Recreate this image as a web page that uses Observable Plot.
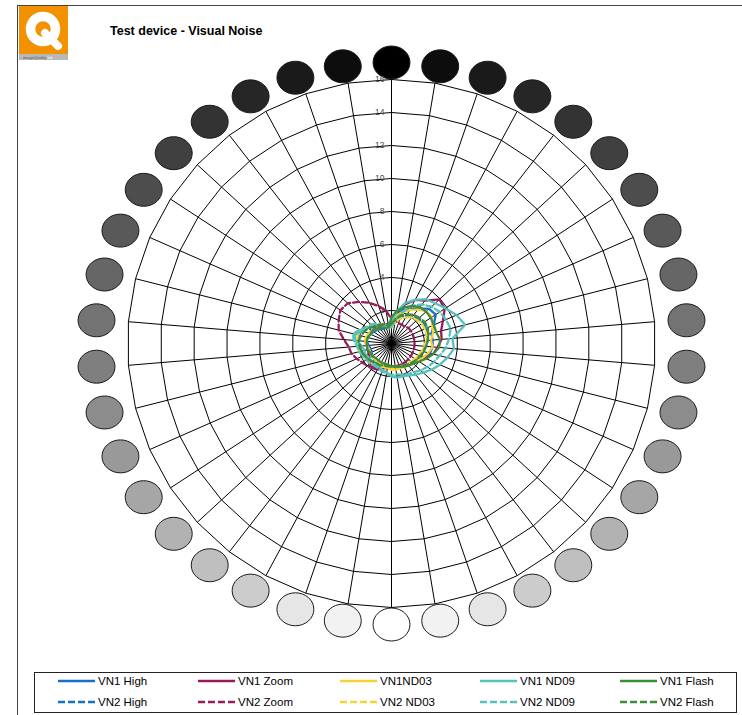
<!DOCTYPE html>
<html><head><meta charset="utf-8">
<script src="https://cdn.jsdelivr.net/npm/d3@7"></script>
<script src="https://cdn.jsdelivr.net/npm/@observablehq/plot@0.6"></script>
<style>
html,body{margin:0;padding:0;background:#fff;}
body{width:742px;height:715px;position:relative;overflow:hidden;font-family:"Liberation Sans",Arial,sans-serif;}
#chart{position:absolute;left:0;top:0;}
#frame{position:absolute;left:17px;top:5px;width:740px;height:720px;border-top:1px solid #444;border-left:1px solid #444;}
#title{position:absolute;left:110px;top:24px;font-size:12.5px;font-weight:bold;line-height:14px;color:#000;white-space:nowrap;}
#logo{position:absolute;left:19px;top:6px;}
#legend{position:absolute;left:34px;top:672px;width:703px;height:41px;box-sizing:border-box;border:1px solid #222;background:#fff;}
.item{position:absolute;height:14px;display:flex;align-items:center;font-size:11.5px;white-space:nowrap;color:#000;}
.item span{margin-left:3px;}
</style></head><body>
<div id="chart"></div>
<div id="frame"></div>
<svg id="logo" width="49" height="54" viewBox="0 0 49 54">
  <rect x="0" y="0" width="49" height="48" fill="#F39200"/>
  <rect x="0" y="48" width="49" height="6" fill="#b8b8b8"/>
  <circle cx="24" cy="23" r="12.5" fill="none" stroke="#fff" stroke-width="9.5"/>
  <line x1="26" y1="27" x2="39" y2="40" stroke="#fff" stroke-width="8" stroke-linecap="round"/>
  <text x="4" y="52.6" font-size="4" fill="#555" font-family="Liberation Sans, Arial">imageQuality <tspan fill="#fff">lab</tspan></text>
</svg>
<div id="title">Test device - Visual Noise</div>
<div id="legend"></div>
<script>
// ---- data ----
const categories = d3.range(1, 39).map(i => "Patch " + i);
const tickLabels = [2, 4, 6, 8, 10, 12, 14, 16];
const patchGrey = [0, 13, 26, 38, 51, 64, 77, 89, 102, 115, 127, 140, 153, 166, 178, 191, 204, 230, 242, 255];
const seriesNames = ["VN1 High", "VN2 High", "VN1 Zoom", "VN2 Zoom", "VN1ND03", "VN2 ND03", "VN1 ND09", "VN2 ND09", "VN1 Flash", "VN2 Flash"];

const vn1High  = [1.4,1.8,2.1,2.4,2.7,3.1,3.2,2.8,2.5,2.5,2.5,2.4,2.2,1.9,1.7,1.6,1.6,1.5,1.5,1.5,1.5,1.5,1.4,1.4,1.4,1.4,1.3,1.3,1.4,1.5,1.5,1.4,1.3,1.2,1.1,1.0,1.0,1.1];
const vn2High  = [1.1,1.4,1.7,1.9,2.1,2.2,2.3,2.3,2.3,2.2,2.1,2.0,1.9,1.8,1.7,1.6,1.5,1.5,1.4,1.4,1.4,1.5,1.5,1.5,1.6,1.7,1.8,1.9,2.0,2.0,2.0,1.9,1.7,1.5,1.4,1.2,1.1,1.0];
const vn1Zoom  = [1.3,1.9,2.5,3.0,3.3,3.95,3.85,3.4,3.1,3.05,2.8,2.6,2.2,1.9,1.7,1.6,1.6,1.5,1.5,1.5,1.5,1.6,1.8,1.9,1.8,1.6,1.5,1.5,1.5,1.6,1.5,1.5,1.4,1.4,1.3,1.3,1.2,1.2];
const vn2Zoom  = [1.5,1.4,1.3,1.3,1.3,1.4,1.4,1.4,1.4,1.4,1.4,1.4,1.4,1.4,1.4,1.4,1.4,1.4,1.4,1.4,1.5,1.6,1.7,1.8,2.0,2.1,2.3,2.5,2.6,2.9,3.3,3.5,3.7,3.6,3.2,2.8,2.4,2.0];
const vn1ND03  = [1.3,1.7,2.0,2.3,2.6,2.9,2.9,2.7,2.6,2.4,2.5,2.3,2.1,1.9,1.7,1.7,1.6,1.6,1.6,1.6,1.5,1.5,1.4,1.4,1.4,1.4,1.4,1.4,1.5,1.6,1.6,1.5,1.4,1.3,1.2,1.1,1.1,1.1];
const vn2ND03  = [1.0,1.3,1.6,1.8,2.0,2.1,2.2,2.2,2.2,2.1,2.0,1.9,1.8,1.7,1.6,1.6,1.5,1.5,1.5,1.5,1.5,1.5,1.6,1.6,1.7,1.8,1.9,2.0,2.1,2.1,2.1,2.0,1.8,1.6,1.4,1.3,1.1,1.0];
const vn1ND09  = [1.3,2.0,2.6,3.0,3.4,3.6,3.9,4.3,4.6,3.7,3.8,3.5,3.2,2.9,2.6,2.4,2.2,2.1,2.1,2.0,1.8,1.7,1.6,1.6,1.6,1.6,1.7,1.7,1.8,2.2,2.3,1.9,1.7,1.6,1.4,1.3,1.2,1.1];
const vn2ND09  = [1.0,1.5,2.0,2.6,3.0,3.3,3.5,3.6,3.7,3.5,3.3,3.0,2.8,2.6,2.4,2.2,2.1,2.0,1.9,1.9,1.8,1.8,1.7,1.7,1.8,1.8,1.9,2.0,2.1,2.3,2.4,2.1,1.8,1.7,1.5,1.3,1.1,1.0];
const vn1Flash = [1.6,2.0,2.3,2.6,2.8,2.85,2.85,2.8,2.8,2.95,2.9,2.6,2.3,2.0,1.8,1.7,1.6,1.5,1.4,1.4,1.3,1.3,1.3,1.3,1.3,1.4,1.4,1.5,1.5,1.5,1.5,1.4,1.4,1.3,1.2,1.1,1.0,1.0];
const vn2Flash = [1.2,1.5,1.8,2.0,2.2,2.3,2.4,2.4,2.3,2.2,2.1,2.0,1.9,1.8,1.7,1.6,1.5,1.5,1.4,1.4,1.4,1.4,1.5,1.5,1.6,1.7,1.8,1.9,1.9,2.0,1.9,1.8,1.7,1.5,1.4,1.3,1.2,1.1];

// ---- layout / style ----
const W = 742, H = 665, CX = 391, CY = 343, PX = 16.5;
const N = categories.length;
const ang = i => i * 2 * Math.PI / N;
const seriesValues = [vn1High, vn2High, vn1Zoom, vn2Zoom, vn1ND03, vn2ND03, vn1ND09, vn2ND09, vn1Flash, vn2Flash];
const seriesColors = ["#1570CC", "#1570CC", "#991B5E", "#991B5E", "#F5D235", "#F5D235", "#57C1BE", "#57C1BE", "#3E8C3A", "#3E8C3A"];
const series = seriesNames.map((name, k) => ({
  name, values: seriesValues[k], color: seriesColors[k], dashed: k % 2 === 1,
  col: Math.floor(k / 2), row: k % 2
}));

const RX = 296 / PX, RY = 281 / PX;
const patches = categories.map((c, i) => {
  const g = patchGrey[Math.min(i, N - i)];
  return {name: c, x: RX * Math.sin(ang(i)), y: RY * Math.cos(ang(i)), fill: `rgb(${g},${g},${g})`};
});
const rings = [];
for (const r of tickLabels) for (let i = 0; i <= N; i++) rings.push({r, x: r * Math.sin(ang(i % N)), y: r * Math.cos(ang(i % N))});
const spokes = categories.map((c, i) => ({x: 16 * Math.sin(ang(i)), y: 16 * Math.cos(ang(i))}));
const closed = vals => vals.concat([vals[0]]).map((v, i) => ({x: v * Math.sin(ang(i % N)), y: v * Math.cos(ang(i % N))}));

const ellipse = {
  draw(ctx, size) {
    const r = Math.sqrt(size / Math.PI), rx = r * 1.12, ry = r, k = 0.5523;
    ctx.moveTo(rx, 0);
    ctx.bezierCurveTo(rx, ry * k, rx * k, ry, 0, ry);
    ctx.bezierCurveTo(-rx * k, ry, -rx, ry * k, -rx, 0);
    ctx.bezierCurveTo(-rx, -ry * k, -rx * k, -ry, 0, -ry);
    ctx.bezierCurveTo(rx * k, -ry, rx, -ry * k, rx, 0);
    ctx.closePath();
  }
};

const plot = Plot.plot({
  width: W, height: H, margin: 0,
  x: {domain: [-CX / PX, (W - CX) / PX], axis: null},
  y: {domain: [-(H - CY) / PX, CY / PX], axis: null},
  color: {type: "identity"},
  style: {background: "transparent", overflow: "visible"},
  marks: [
    Plot.dot(patches, {x: "x", y: "y", r: 16.5, symbol: ellipse, fill: "fill", stroke: "#1a1a1a", strokeWidth: 1}),
    Plot.line(rings, {x: "x", y: "y", z: "r", stroke: "#000", strokeWidth: 1}),
    Plot.link(spokes, {x1: () => 0, y1: () => 0, x2: "x", y2: "y", stroke: "#000", strokeWidth: 1}),
    Plot.text(tickLabels, {x: () => 0, y: d => d, text: d => String(d), textAnchor: "end", dx: -7, fontSize: 8.5, fill: "#4a4a4a", fontFamily: "Liberation Sans, Arial"}),
    ...series.map(s => Plot.line(closed(s.values), {x: "x", y: "y", stroke: s.color, strokeWidth: 2.3, strokeDasharray: s.dashed ? "6,3" : undefined, strokeLinejoin: "round"}))
  ]
});
document.getElementById("chart").appendChild(plot);

// ---- legend ----
const legend = document.getElementById("legend");
const colX = [58, 198, 340, 480, 620];
const rowY = [681, 702];
for (const s of series) {
  const d = document.createElement("div");
  d.className = "item";
  d.style.left = (colX[s.col] - 35) + "px";
  d.style.top = (rowY[s.row] - 7 - 673) + "px";
  d.innerHTML = `<svg width="37" height="4"><line x1="0" y1="2" x2="37" y2="2" stroke="${s.color}" stroke-width="2.5" ${s.dashed ? 'stroke-dasharray="7,3"' : ''}/></svg><span>${s.name}</span>`;
  legend.appendChild(d);
}
</script></body></html>
